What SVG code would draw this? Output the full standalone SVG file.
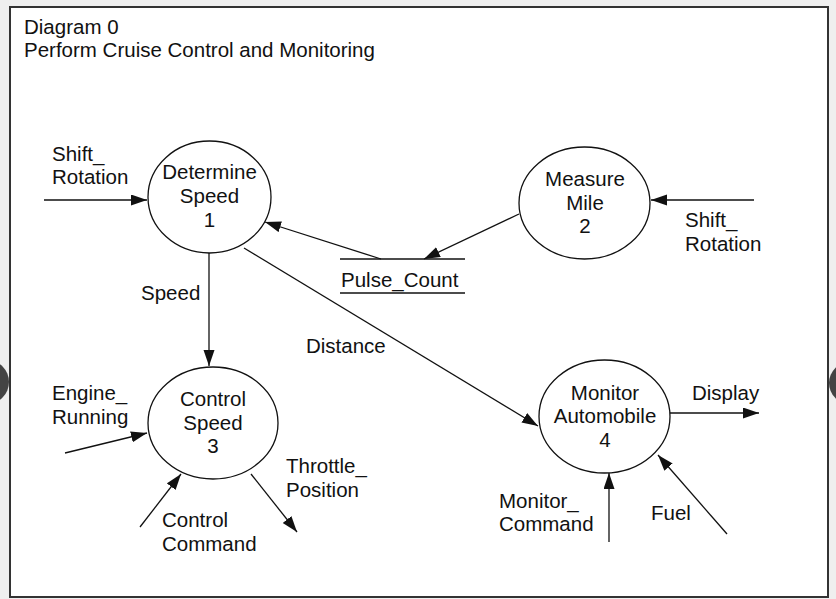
<svg xmlns="http://www.w3.org/2000/svg" width="836" height="599" viewBox="0 0 836 599">
<style>
  text { font-family: "Liberation Sans", Arial, sans-serif; font-size: 20.5px; fill: #111; }
  .c { text-anchor: middle; }
  .node ellipse { fill: #fff; stroke: #111; stroke-width: 1.3; }
  .flow line { stroke: #111; stroke-width: 1.3; }
  .arr { marker-end: url(#ah); }
  .store { stroke: #111; stroke-width: 1.3; }
</style>
<defs>
  <marker id="ah" markerUnits="userSpaceOnUse" markerWidth="17" markerHeight="12" refX="16" refY="5.5" orient="auto">
    <path d="M0,0 L16,5.5 L0,11 z" fill="#111"/>
  </marker>
</defs>
<rect x="0" y="0" width="836" height="599" fill="#efefef"/>
<rect x="10" y="7" width="818" height="590" fill="#fff" stroke="#333" stroke-width="2"/>
<circle cx="-13" cy="382" r="22" fill="#444"/>
<circle cx="850" cy="383" r="21" fill="#444"/>

<text x="24" y="34">Diagram 0</text>
<text x="24" y="57">Perform Cruise Control and Monitoring</text>

<g id="connectors" class="flow">
  <line class="arr" x1="44" y1="200" x2="147" y2="200"/>
  <line class="arr" x1="381" y1="259" x2="265" y2="222"/>
  <line class="arr" x1="519" y1="214" x2="424" y2="259"/>
  <line class="arr" x1="754" y1="200" x2="651" y2="200"/>
  <line class="arr" x1="209" y1="253" x2="209" y2="366"/>
  <line class="arr" x1="244" y1="248" x2="538" y2="426"/>
  <line class="arr" x1="65" y1="453" x2="147" y2="433"/>
  <line class="arr" x1="140" y1="527" x2="181" y2="474"/>
  <line class="arr" x1="251" y1="474" x2="297" y2="532"/>
  <line class="arr" x1="670" y1="413" x2="759" y2="413"/>
  <line class="arr" x1="609" y1="542" x2="609" y2="473"/>
  <line class="arr" x1="727" y1="534" x2="658" y2="455"/>
</g>

<g id="labels">
  <text x="52" y="161">Shift_</text>
  <text x="52" y="184">Rotation</text>
  <text x="685" y="227">Shift_</text>
  <text x="685" y="251">Rotation</text>
  <text x="141" y="300">Speed</text>
  <text x="306" y="353">Distance</text>
  <text x="52" y="400">Engine_</text>
  <text x="52" y="424">Running</text>
  <text x="286" y="473">Throttle_</text>
  <text x="286" y="497">Position</text>
  <text x="162" y="527">Control</text>
  <text x="162" y="551">Command</text>
  <text x="692" y="400">Display</text>
  <text x="499" y="508">Monitor_</text>
  <text x="499" y="531">Command</text>
  <text x="651" y="520">Fuel</text>
</g>

<g id="store-pulse-count">
  <line class="store" x1="340" y1="259" x2="465" y2="259"/>
  <line class="store" x1="340" y1="293" x2="465" y2="293"/>
  <text x="341" y="287">Pulse_Count</text>
</g>

<g id="node1" class="node">
  <ellipse cx="209.5" cy="197" rx="61.5" ry="56"/>
  <text class="c" x="209.5" y="179">Determine</text>
  <text class="c" x="209.5" y="203">Speed</text>
  <text class="c" x="209.5" y="227">1</text>
</g>
<g id="node2" class="node">
  <ellipse cx="584.5" cy="203" rx="65.5" ry="56"/>
  <text class="c" x="585" y="186">Measure</text>
  <text class="c" x="585" y="210">Mile</text>
  <text class="c" x="585" y="233">2</text>
</g>
<g id="node3" class="node">
  <ellipse cx="213" cy="423" rx="65" ry="56"/>
  <text class="c" x="213" y="406">Control</text>
  <text class="c" x="213" y="430">Speed</text>
  <text class="c" x="213" y="453">3</text>
</g>
<g id="node4" class="node">
  <ellipse cx="604.5" cy="416.5" rx="65.5" ry="56.5"/>
  <text class="c" x="605" y="400">Monitor</text>
  <text class="c" x="605" y="423">Automobile</text>
  <text class="c" x="605" y="447">4</text>
</g>
</svg>
